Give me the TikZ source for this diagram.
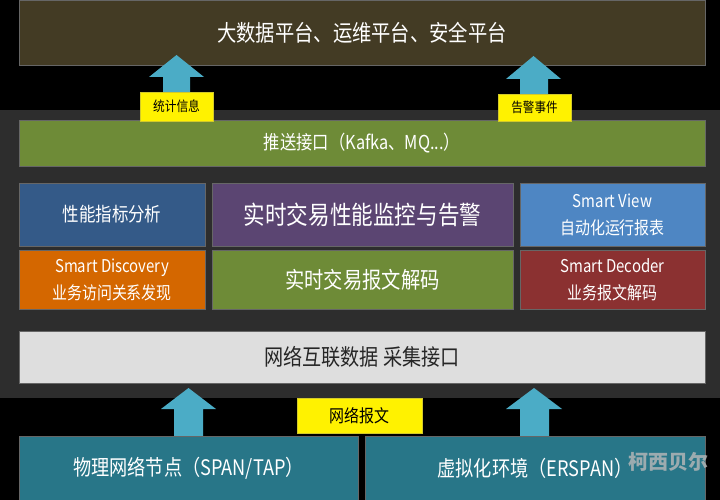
\documentclass[tikz,border=0pt]{standalone}
\usepackage{fontspec}
\usepackage{graphicx}
\setmainfont{Noto Sans CJK SC}
\newcommand\sqz[1]{\scalebox{0.85}[1]{#1}}
\newcommand\fs[1]{\fontsize{#1}{#1}\selectfont}
\definecolor{topc}{HTML}{433B24}
\definecolor{panelc}{HTML}{2D2D2D}
\definecolor{greenc}{HTML}{6E8B37}
\definecolor{bluec}{HTML}{345A88}
\definecolor{purplec}{HTML}{5B4572}
\definecolor{lbluec}{HTML}{4E86C3}
\definecolor{orangec}{HTML}{D46700}
\definecolor{redc}{HTML}{8B3131}
\definecolor{lgrayc}{HTML}{DEDEDE}
\definecolor{tealc}{HTML}{287688}
\definecolor{arrowc}{HTML}{4BACC6}
\begin{document}
\begin{tikzpicture}[x=1pt,y=-1pt,
  box/.style={draw=black!60,line width=0.4pt,inner sep=0pt,text=white,align=center},
  two/.style={font={\fontsize{17.6}{27}\selectfont}},
  tag/.style={fill=yellow,draw=yellow!80!black,line width=0.3pt,inner sep=0pt,text=black,align=center},
  barrow/.style={fill=arrowc,draw=none}]
\fill[black] (0,0) rectangle (720,500);
\useasboundingbox (0,0) rectangle (720,500);
% top platform
\node[box,fill=topc,minimum width=686,minimum height=65,font=\fs{22.7}] (title) at (362,32.5)
  {\sqz{大数据平台、运维平台、安全平台}};
% panel
\fill[panelc] (0,110) rectangle (720,398);
% top arrows
\fill[barrow] (163,112) -- (163,77) -- (149,77) -- (176.5,55) -- (204,77) -- (190,77) -- (190,112) -- cycle;
\fill[barrow] (520,112) -- (520,79) -- (506,79) -- (533.5,56) -- (561,79) -- (548,79) -- (548,112) -- cycle;
% push bar
\node[box,fill=greenc,minimum width=686,minimum height=46,font=\fs{19.2}] (push) at (362,143)
  {\sqz{推送接口（Kafka、MQ...）}};
% row 1
\node[box,fill=bluec,minimum width=186,minimum height=63,font=\fs{19.4}] (perf) at (112,214.5)
  {\sqz{性能指标分析}};
\node[box,fill=purplec,minimum width=301,minimum height=63,font=\fs{25.4}] (monitor) at (362.5,214.5)
  {\sqz{实时交易性能监控与告警}};
\node[box,two,fill=lbluec,minimum width=185,minimum height=63] (view) at (612.5,214.5)
  {\sqz{Smart View}\\\sqz{自动化运行报表}};
% row 2
\node[box,two,fill=orangec,minimum width=186,minimum height=59] (disc) at (112,279.5)
  {\sqz{Smart Discovery}\\\sqz{业务访问关系发现}};
\node[box,fill=greenc,minimum width=301,minimum height=59,font=\fs{22.7}] (decode) at (362.5,279.5)
  {\sqz{实时交易报文解码}};
\node[box,two,fill=redc,minimum width=185,minimum height=59] (sdec) at (612.5,279.5)
  {\sqz{Smart Decoder}\\\sqz{业务报文解码}};
% collect bar
\node[box,fill=lgrayc,text=black!85,minimum width=686,minimum height=52,font=\fs{22.5}] (collect) at (362,357)
  {\sqz{网络互联数据 采集接口}};
% bottom arrows
\fill[barrow] (174,436) -- (174,409) -- (161,409) -- (188.5,388) -- (216,409) -- (203,409) -- (203,436) -- cycle;
\fill[barrow] (520,436) -- (520,409) -- (506,409) -- (534,388) -- (562,409) -- (549,409) -- (549,436) -- cycle;
% bottom boxes
\node[box,fill=tealc,minimum width=339,minimum height=64,font=\fs{21.4}] (phys) at (188.5,468)
  {\sqz{物理网络节点（SPAN/TAP）}};
\node[box,fill=tealc,minimum width=340,minimum height=64,font=\fs{21.4}] (virt) at (535,468)
  {\sqz{虚拟化环境（ERSPAN）}};
% tags
\node[tag,minimum width=73,minimum height=29,font=\fs{13.8}] (lstat) at (176.5,106.5) {\sqz{统计信息}};
\node[tag,minimum width=73,minimum height=27,font=\fs{13.6}] (lalarm) at (534.5,107.5) {\sqz{告警事件}};
\node[tag,minimum width=125,minimum height=35,font=\fs{17.6}] (lpkt) at (359.5,415.5) {\sqz{网络报文}};
% watermark
\node[text=gray!55,opacity=0.8,inner sep=0pt,font=\fs{20}\bfseries] (wm) at (668,462) {柯西贝尔};
\end{tikzpicture}
\end{document}
